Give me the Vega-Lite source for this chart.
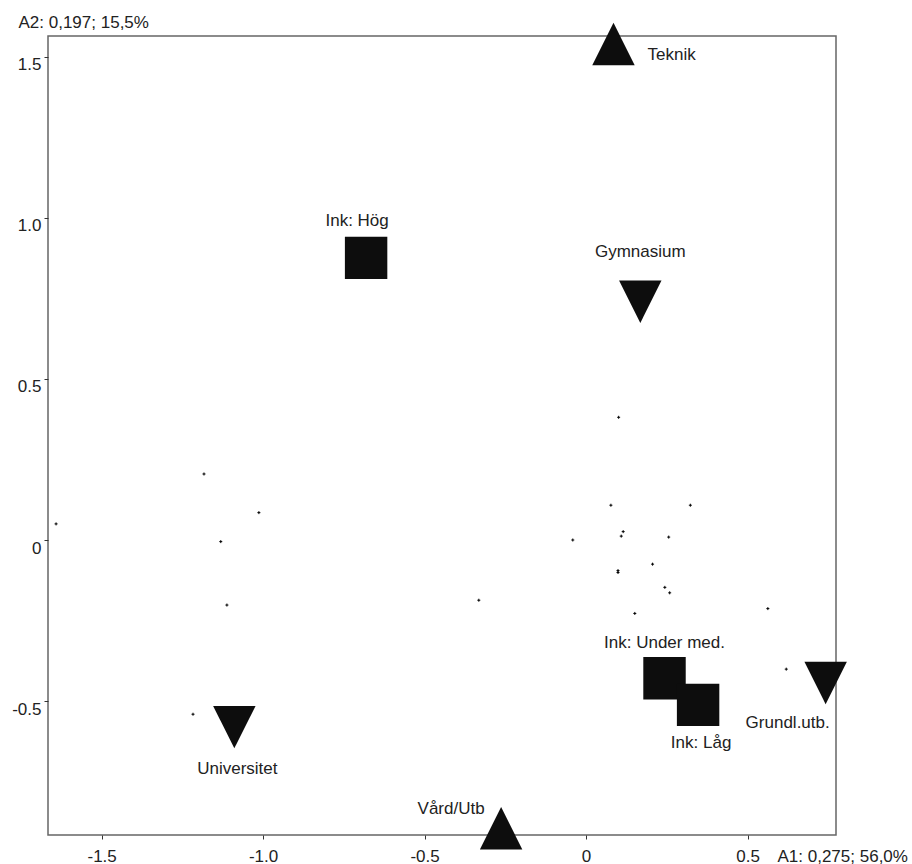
{
  "$schema": "https://vega.github.io/schema/vega-lite/v6.json",
  "width": 788,
  "height": 799,
  "autosize": "none",
  "padding": {"left": 48, "top": 36, "right": 76, "bottom": 29},
  "background": "white",
  "config": {
    "view": {"stroke": "#666", "strokeWidth": 1.5},
    "axis": {
      "grid": false,
      "domain": false,
      "ticks": true,
      "tickColor": "#333",
      "tickSize": 4,
      "labelFont": "Liberation Sans",
      "labelFontSize": 17,
      "labelColor": "#222",
      "titleFont": "Liberation Sans",
      "titleFontSize": 17,
      "titleFontWeight": "normal",
      "titleColor": "#222"
    },
    "text": {"font": "Liberation Sans", "fontSize": 17, "color": "#222"}
  },
  "datasets": {
    "cats": [
      {"name": "Teknik", "a1": 0.085, "a2": 1.540, "kind": "yrke"},
      {"name": "Vård/Utb", "a1": -0.263, "a2": -0.895, "kind": "yrke"},
      {"name": "Gymnasium", "a1": 0.168, "a2": 0.740, "kind": "utb"},
      {"name": "Universitet", "a1": -1.089, "a2": -0.581, "kind": "utb"},
      {"name": "Grundl.utb.", "a1": 0.742, "a2": -0.444, "kind": "utb"},
      {"name": "Ink: Hög", "a1": -0.681, "a2": 0.876, "kind": "ink"},
      {"name": "Ink: Under med.", "a1": 0.243, "a2": -0.429, "kind": "ink"},
      {"name": "Ink: Låg", "a1": 0.347, "a2": -0.512, "kind": "ink"}
    ],
    "pts": [
      {"a1": 0.101, "a2": 0.381},
      {"a1": 0.077, "a2": 0.108},
      {"a1": 0.323, "a2": 0.108},
      {"a1": 0.115, "a2": 0.026},
      {"a1": 0.109, "a2": 0.012},
      {"a1": 0.256, "a2": 0.009},
      {"a1": -0.041, "a2": 0.0},
      {"a1": 0.206, "a2": -0.075},
      {"a1": 0.099, "a2": -0.095},
      {"a1": 0.099, "a2": -0.101},
      {"a1": 0.244, "a2": -0.147},
      {"a1": 0.259, "a2": -0.164},
      {"a1": 0.151, "a2": -0.228},
      {"a1": 0.563, "a2": -0.213},
      {"a1": 0.620, "a2": -0.401},
      {"a1": -1.641, "a2": 0.050},
      {"a1": -1.183, "a2": 0.205},
      {"a1": -1.013, "a2": 0.085},
      {"a1": -1.131, "a2": -0.005},
      {"a1": -1.112, "a2": -0.202},
      {"a1": -0.332, "a2": -0.187},
      {"a1": -1.217, "a2": -0.541}
    ]
  },
  "layer": [
    {
      "data": {"name": "pts"},
      "mark": {"type": "point", "shape": "M-1,0H1M0,-1V1", "filled": false, "stroke": "#000", "strokeWidth": 1, "size": 9, "opacity": 1},
      "encoding": {
        "x": {
          "field": "a1", "type": "quantitative",
          "scale": {"domain": [-1.666, 0.774], "nice": false, "zero": false},
          "axis": {
            "values": [-1.5, -1, -0.5, 0, 0.5],
            "labelExpr": "datum.value == 0 ? '0' : (datum.value < 0 ? '-' : '') + format(abs(datum.value), '.1f')",
            "labelPadding": 9,
            "title": "A1: 0,275; 56,0%",
            "titleX": 729, "titleY": 13,
            "titleAlign": "left", "titleBaseline": "top", "titleAnchor": null
          }
        },
        "y": {
          "field": "a2", "type": "quantitative",
          "scale": {"domain": [-0.916, 1.565], "nice": false, "zero": false},
          "axis": {
            "values": [-0.5, 0, 0.5, 1, 1.5],
            "labelExpr": "datum.value == 0 ? '0' : (datum.value < 0 ? '-' : '') + format(abs(datum.value), '.1f')",
            "labelPadding": 3,
            "labelBaseline": "top",
            "labelOffset": 0,
            "title": "A2: 0,197; 15,5%",
            "titleAngle": 0,
            "titleX": -30, "titleY": -22,
            "titleAlign": "left", "titleBaseline": "top", "titleAnchor": null
          }
        }
      }
    },
    {
      "mark": {"type": "rule", "stroke": "#555", "strokeWidth": 1, "strokeDash": [3, 3]},
      "encoding": {"x": {"datum": 0, "type": "quantitative"}}
    },
    {
      "mark": {"type": "rule", "stroke": "#555", "strokeWidth": 1, "strokeDash": [3, 3]},
      "encoding": {"y": {"datum": 0, "type": "quantitative"}}
    },
    {
      "data": {"name": "cats"},
      "mark": {"type": "point", "filled": true, "fill": "#0d0d0d", "strokeWidth": 0, "opacity": 1, "size": 1800},
      "encoding": {
        "x": {"field": "a1", "type": "quantitative"},
        "y": {"field": "a2", "type": "quantitative"},
        "shape": {
          "field": "kind", "type": "nominal",
          "scale": {"domain": ["utb", "yrke", "ink"], "range": ["M-1,-1L1,-1L0,1Z", "M-1,1L1,1L0,-1Z", "M-1,-1H1V1H-1Z"]},
          "legend": null
        }
      }
    },
    {
      "data": {"name": "cats"},
      "transform": [{"filter": "datum.name == 'Teknik'"}],
      "mark": {"type": "text", "align": "left", "baseline": "middle", "dx": 34, "dy": 11},
      "encoding": {"x": {"field": "a1", "type": "quantitative"}, "y": {"field": "a2", "type": "quantitative"}, "text": {"field": "name"}}
    },
    {
      "data": {"name": "cats"},
      "transform": [{"filter": "datum.name == 'Ink: Hög'"}],
      "mark": {"type": "text", "align": "center", "baseline": "middle", "dx": -9, "dy": -37},
      "encoding": {"x": {"field": "a1", "type": "quantitative"}, "y": {"field": "a2", "type": "quantitative"}, "text": {"field": "name"}}
    },
    {
      "data": {"name": "cats"},
      "transform": [{"filter": "datum.name == 'Gymnasium'"}],
      "mark": {"type": "text", "align": "center", "baseline": "middle", "dx": 0, "dy": -50},
      "encoding": {"x": {"field": "a1", "type": "quantitative"}, "y": {"field": "a2", "type": "quantitative"}, "text": {"field": "name"}}
    },
    {
      "data": {"name": "cats"},
      "transform": [{"filter": "datum.name == 'Universitet'"}],
      "mark": {"type": "text", "align": "center", "baseline": "middle", "dx": 3, "dy": 42},
      "encoding": {"x": {"field": "a1", "type": "quantitative"}, "y": {"field": "a2", "type": "quantitative"}, "text": {"field": "name"}}
    },
    {
      "data": {"name": "cats"},
      "transform": [{"filter": "datum.name == 'Vård/Utb'"}],
      "mark": {"type": "text", "align": "center", "baseline": "middle", "dx": -50, "dy": -19},
      "encoding": {"x": {"field": "a1", "type": "quantitative"}, "y": {"field": "a2", "type": "quantitative"}, "text": {"field": "name"}}
    },
    {
      "data": {"name": "cats"},
      "transform": [{"filter": "datum.name == 'Ink: Under med.'"}],
      "mark": {"type": "text", "align": "center", "baseline": "middle", "dx": 0, "dy": -35},
      "encoding": {"x": {"field": "a1", "type": "quantitative"}, "y": {"field": "a2", "type": "quantitative"}, "text": {"field": "name"}}
    },
    {
      "data": {"name": "cats"},
      "transform": [{"filter": "datum.name == 'Ink: Låg'"}],
      "mark": {"type": "text", "align": "center", "baseline": "middle", "dx": 3, "dy": 38},
      "encoding": {"x": {"field": "a1", "type": "quantitative"}, "y": {"field": "a2", "type": "quantitative"}, "text": {"field": "name"}}
    },
    {
      "data": {"name": "cats"},
      "transform": [{"filter": "datum.name == 'Grundl.utb.'"}],
      "mark": {"type": "text", "align": "center", "baseline": "middle", "dx": -38, "dy": 40},
      "encoding": {"x": {"field": "a1", "type": "quantitative"}, "y": {"field": "a2", "type": "quantitative"}, "text": {"field": "name"}}
    }
  ]
}
